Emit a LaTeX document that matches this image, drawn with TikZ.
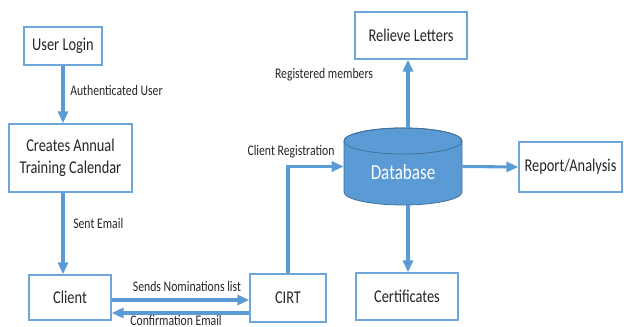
\documentclass[tikz,border=0pt]{standalone}
\usepackage{fontspec}
\setmainfont{Carlito}[FakeStretch=0.8]
\usetikzlibrary{arrows.meta}
\definecolor{lineblue}{HTML}{5B9BD5}
\definecolor{boxblue}{HTML}{6FA6DA}
\definecolor{dbedge}{HTML}{41719C}
\definecolor{txt}{HTML}{262626}
\begin{document}
\begin{tikzpicture}[x=0.75pt,y=-0.75pt,
  box/.style={draw=boxblue, line width=1pt, fill=white, inner sep=0pt, text=txt,
    font=\fontsize{13.5}{16.5}\selectfont, align=center},
  arr/.style={draw=lineblue, line width=2.3pt, -{Triangle[length=9pt,width=7.5pt]}},
  lab/.style={font=\fontsize{11}{12}\selectfont, text=txt, inner sep=0pt}]
\useasboundingbox (0,0) rectangle (624,327);
\clip (0,0) rectangle (624,327);
% boxes
\node[box, minimum width=58.5pt, minimum height=28.5pt] (login) at (63,46) {User Login};
\node[box, minimum width=92.25pt, minimum height=51pt] (cal) at (70.5,158) {Creates Annual\\Training Calendar};
\node[box, minimum width=61.5pt, minimum height=33.75pt] (client) at (70,297.5) {Client};
\node[box, minimum width=57pt, minimum height=36pt] (cirt) at (288,298) {CIRT};
\node[box, minimum width=84pt, minimum height=35.25pt] (relieve) at (411,35.5) {Relieve Letters};
\node[box, minimum width=77.25pt, minimum height=37.5pt] (report) at (570.5,167) {Report/Analysis};
\node[box, minimum width=76.5pt, minimum height=35.25pt] (cert) at (407,296.5) {Certificates};
% database cylinder
\node[minimum width=88.5pt, minimum height=57.75pt, inner sep=0pt] (db) at (403,166.5) {};
\filldraw[fill=lineblue, draw=dbedge, line width=0.6pt]
  (344,141) -- (344,192) arc[start angle=180, end angle=360, x radius=44.25pt, y radius=9.75pt]
  -- (462,141) arc[start angle=0, end angle=180, x radius=44.25pt, y radius=9.75pt] -- cycle;
\draw[dbedge, line width=0.6pt] (403,141) ellipse[x radius=44.25pt, y radius=9.75pt];
\node[text=white, font=\fontsize{16}{18}\selectfont] (dbtext) at (403,172) {Database};
% helper coordinates
\coordinate (ya) at (0,300);
\coordinate (yb) at (0,313);
\coordinate (dbn) at (408,128);
\coordinate (dbs) at (408,205);
% connectors
\draw[arr] (login.south) -- (login.south |- cal.north);
\draw[arr] (login.south |- cal.south) -- (login.south |- client.north);
\draw[arr] (client.east |- ya) -- (cirt.west |- ya);
\draw[arr] (cirt.west |- yb) -- (client.east |- yb);
\draw[arr] (cirt.north) |- (db.west);
\draw[arr] (dbn) -- (dbn |- relieve.south);
\draw[arr] (db.east) -- (report.west);
\draw[arr] (dbs) -- (dbs |- cert.north);
% labels
\node[lab, anchor=west] (l1) at (70,90) {Authenticated User};
\node[lab, anchor=west] (l2) at (73,223) {Sent Email};
\node[lab] (l3) at (187,286) {Sends Nominations list};
\node[lab] (l4) at (176,320) {Confirmation Email};
\node[lab] (l5) at (291,152) {Client Registration};
\node[lab] (l6) at (324,75) {Registered members};
\end{tikzpicture}
\end{document}
